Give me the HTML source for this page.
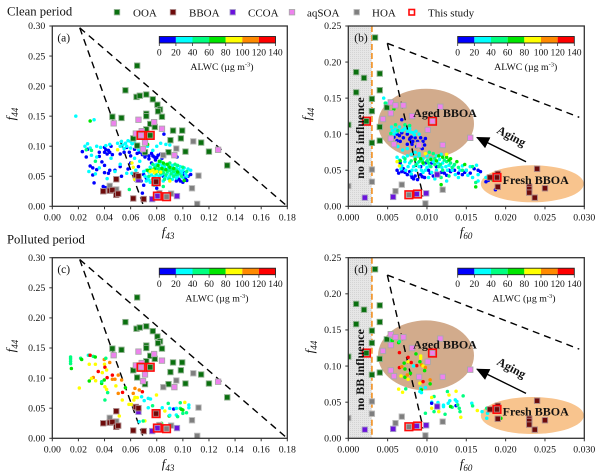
<!DOCTYPE html>
<html lang="en">
<head>
<meta charset="utf-8">
<title>Clean and polluted period f44 vs f43 and f60 scatter panels</title>
<style>
html,body{margin:0;padding:0;background:#fff;width:600px;height:476px;overflow:hidden}
svg{display:block;font-family:"Liberation Serif",serif;filter:blur(0.3px)}
text{fill:#111}
</style>
</head>
<body>
<svg id="chart" xmlns="http://www.w3.org/2000/svg" width="600" height="476" viewBox="0 0 600 476">
<defs>
<pattern id="stipple" width="2" height="2" patternUnits="userSpaceOnUse"><rect width="2" height="2" fill="#e6e6e6"/><rect width="1" height="1" fill="#d4d4d4"/></pattern>
<marker id="arrowhead" markerUnits="userSpaceOnUse" markerWidth="14" markerHeight="12" refX="12" refY="6" orient="auto"><path d="M0 0L13 6L0 12Z" fill="#000"/></marker>
</defs>
</svg>
<script>
// ---------- tick labels ----------
const f43Ticks = [0, 0.02, 0.04, 0.06, 0.08, 0.10, 0.12, 0.14, 0.16, 0.18];
const f60Ticks = [0, 0.005, 0.010, 0.015, 0.020, 0.025, 0.030];
const f44TicksLeft = [0, 0.05, 0.10, 0.15, 0.20, 0.25, 0.30];
const f44TicksRight = [0, 0.05, 0.10, 0.15, 0.20, 0.25];
const alwcTicks = [0, 20, 40, 60, 80, 100, 120, 140];
const alwcColors = ['#0000ff', '#00ffff', '#00ff80', '#00e600', '#ffff00', '#ff8a00', '#ff0000'];

// ---------- literature points [f43, f44] ----------
const ooaF43 = [[.065,.234],[.056,.193],[.072,.186],[.0645,.182],[.067,.184],[.077,.178],[.0805,.169],[.0825,.161],[.081,.158],[.084,.149],[.072,.154],[.072,.150],[.046,.149],[.053,.147],[.075,.137],[.0785,.132],[.072,.128],[.0925,.126],[.0995,.126],[.075,.118],[.0905,.110],[.0985,.113],[.062,.113],[.114,.106],[.065,.101],[.071,.090],[.089,.090],[.102,.091],[.120,.091],[.134,.068]];
const bboaF43 = [[.064,.052],[.066,.050],[.049,.045],[.0795,.041],[.039,.025],[.044,.026],[.046,.027],[.049,.019],[.0505,.021],[.062,.013],[.070,.012]];
const ccoaF43 = [[.066,.044],[.0805,.017],[.0955,.017],[.0765,.012]];
const aqsoaF43 = [[.066,.144],[.047,.138],[.078,.140],[.084,.129],[.0685,.125],[.064,.121],[.071,.106],[.0695,.095],[.0935,.085],[.127,.094],[.068,.118]];
const hoaF43 = [[.108,.108],[.095,.096],[.085,.085],[.112,.051],[.107,.030],[.044,.034],[.049,.028],[.082,.022],[.091,.021],[.0875,.016],[.111,.004]];
const studyF43 = [[.068,.118],[.075,.118],[.0795,.041],[.0805,.017],[.0875,.016]];

// ---------- literature points [f60, f44] ----------
const ooaF60 = [[.0034,.234],[.001,.186],[.002,.178],[.004,.184],[.001,.158],[.004,.161],[.003,.149],[.003,.132],[.0049,.137],[.0023,.118],[.004,.110],[0,.113],[.003,.088],[.004,.091]];
const bboaF60 = [[.024,.052],[.019,.045],[.018,.040],[.0189,.040],[.019,.027],[.023,.027],[.023,.024],[.023,.019],[.025,.025],[.0237,.012]];
const ccoaF60 = [[.0113,.044],[.0021,.012],[.0057,.013],[.0087,.017],[.0099,.018]];
const aqsoaF60 = [[.0054,.144],[.006,.140],[.007,.140],[.0117,.138],[.0054,.129],[.0081,.125],[.0044,.121],[.0101,.106],[.0054,.094],[.0058,.086],[.0090,.085],[.0120,.085],[.0155,.095],[.0107,.118]];
const hoaF60 = [[.003,.051],[.003,.034],[0,.028],[.0068,.030],[.006,.021],[.012,.023],[.0077,.016],[.0098,.004]];
const studyF60 = [[.0023,.118],[.0107,.118],[.0189,.040],[.0088,.017],[.0077,.016]];

// ---------- this-study points [x, f44, ALWC] ----------
const dotsA = [
[.023,.091,10],[.026,.082,10],[.027,.095,10],[.029,.067,10],[.031,.052,10],[.032,.039,10],[.031,.064,10],[.034,.061,10],[.036,.083,10],[.036,.09,10],[.038,.074,10],[.04,.09,10],[.04,.098,10],[.041,.094,10],[.042,.087,10],[.043,.093,10],[.044,.09,10],[.045,.1,10],[.046,.086,10],[.04,.056,10],[.04,.068,10],[.043,.055,10],[.039,.033,10],[.041,.031,10],[.044,.06,10],[.052,.066,10],[.053,.05,10],[.048,.06,10],[.052,.087,10],[.055,.09,10],[.057,.098,10],[.059,.09,10],[.06,.084,10],[.063,.095,10],[.065,.088,10],[.069,.086,10],[.072,.086,10],[.074,.084,10],[.076,.088,10],[.078,.082,10],[.081,.085,10],[.083,.087,10],[.0855,.12,10],[.084,.08,10],[.079,.077,10],[.076,.072,10],[.0955,.082,10],[.07,.053,10],[.072,.047,10],[.068,.042,10],[.07,.035,10],[.069,.022,10],[.08,.03,10],[.1,.04,10],[.102,.047,10],[.104,.05,10],[.1,.052,10],[.097,.045,10],[.092,.06,10],[.095,.042,10],[.085,.05,10],[.066,.066,10],[.06,.072,10],[.058,.062,10],[.098,.042,10],[.103,.043,10],[.106,.053,10],[.101,.056,10],[.071,.082,10],[.067,.09,10],[.074,.079,10],[.077,.084,10],[.08,.081,10],[.086,.083,10],
[.018,.15,30],[.032,.144,30],[.025,.1,30],[.027,.104,30],[.029,.097,30],[.034,.1,30],[.037,.098,30],[.041,.101,30],[.044,.103,30],[.03,.085,30],[.034,.082,30],[.036,.064,30],[.028,.058,30],[.033,.054,30],[.042,.046,30],[.045,.08,30],[.048,.058,30],[.052,.07,30],[.057,.055,30],[.05,.105,30],[.053,.108,30],[.056,.105,30],[.058,.109,30],[.061,.104,30],[.064,.101,30],[.052,.1,30],[.055,.096,30],[.06,.097,30],[.067,.098,30],[.07,.094,30],[.073,.1,30],[.077,.093,30],[.083,.105,30],[.087,.103,30],[.09,.102,30],[.08,.1,30],[.063,.08,30],[.067,.075,30],[.061,.055,30],[.064,.06,30],[.054,.102,30],[.057,.1,30],[.06,.108,30],[.063,.105,30],[.066,.094,30],
[.072,.06,30],[.074,.057,30],[.076,.052,30],[.078,.049,30],[.08,.045,30],[.082,.05,30],[.084,.053,30],[.086,.047,30],[.088,.055,30],[.09,.05,30],[.092,.045,30],[.094,.055,30],[.096,.05,30],[.098,.058,30],[.1,.06,30],[.102,.055,30],[.104,.062,30],[.106,.06,30],[.075,.04,30],[.078,.035,30],[.072,.042,30],[.085,.042,30],[.083,.06,30],[.086,.065,30],[.089,.063,30],[.092,.068,30],[.095,.064,30],[.098,.066,30],[.08,.07,30],[.082,.072,30],[.084,.068,30],[.1,.048,30],[.073,.048,30],[.076,.062,30],[.07,.058,30],[.074,.044,30],[.077,.041,30],[.08,.052,30],[.082,.045,30],[.087,.05,30],[.089,.046,30],[.091,.057,30],[.093,.053,30],[.095,.047,30],[.097,.061,30],[.099,.055,30],[.101,.064,30],[.103,.05,30],[.079,.042,30],[.081,.038,30],[.071,.05,30],[.075,.065,30],[.078,.068,30],
[.081,.058,50],[.085,.06,50],[.088,.058,50],[.09,.06,50],[.093,.058,50],[.095,.06,50],[.097,.054,50],[.099,.05,50],[.091,.054,50],[.087,.052,50],[.083,.055,50],[.079,.055,50],[.077,.045,50],[.074,.05,50],[.086,.07,50],[.09,.072,50],[.094,.07,50],[.083,.075,50],[.077,.07,50],[.079,.065,50],[.1,.065,50],[.103,.058,50],[.09,.045,50],[.093,.05,50],[.085,.033,50],[.059,.028,50],[.033,.075,50],[.026,.094,50],[.03,.093,50],[.082,.063,50],[.085,.056,50],[.089,.067,50],[.092,.062,50],[.096,.068,50],[.086,.045,50],[.095,.053,50],[.08,.062,50],
[.029,.142,70],[.075,.06,70],[.073,.06,70],[.078,.062,70],[.081,.068,70],[.084,.063,70],[.088,.07,70],[.09,.065,70],[.093,.063,70],[.096,.057,70],[.101,.043,70],[.082,.075,70],[.073,.103,70],[.087,.061,70],[.085,.072,70],
[.061,.072,90],[.05,.094,90],[.077,.06,90],[.08,.058,90],[.078,.056,90],[.075,.058,90],[.083,.057,90],[.062,.065,90],[.063,.045,90],[.09,.042,90]
];
const dotsB = [
[.0062,.1,10],[.0058,.096,10],[.0065,.098,10],[.0068,.102,10],[.0062,.091,10],[.0066,.09,10],[.007,.095,10],[.0075,.1,10],[.0078,.093,10],[.008,.096,10],[.0082,.09,10],[.0085,.095,10],[.0088,.09,10],[.009,.087,10],[.0092,.095,10],[.0095,.09,10],[.0097,.085,10],[.0098,.094,10],[.0094,.08,10],[.0091,.083,10],[.0087,.083,10],[.0081,.086,10],[.0075,.086,10],[.0068,.12,10],
[.0062,.05,10],[.0064,.046,10],[.0066,.06,10],[.0068,.048,10],[.007,.052,10],[.0075,.044,10],[.0078,.048,10],[.0081,.04,10],[.0085,.042,10],[.0088,.037,10],[.0092,.044,10],[.0097,.04,10],[.0102,.05,10],[.0108,.042,10],[.0112,.055,10],[.0118,.047,10],[.0125,.043,10],[.013,.048,10],[.0135,.05,10],[.014,.046,10],[.0145,.044,10],[.015,.05,10],[.0155,.046,10],[.016,.052,10],[.0165,.05,10],[.0168,.048,10],[.0092,.055,10],[.0098,.06,10],[.0106,.06,10],[.0175,.034,10],[.0187,.023,10],[.0178,.036,10],[.0072,.047,10],[.008,.043,10],[.0083,.038,10],[.0094,.041,10],[.0104,.046,10],[.0115,.043,10],[.0122,.046,10],[.0128,.05,10],[.0148,.047,10],
[.0045,.15,30],[.0048,.143,30],[.005,.138,30],[.0055,.11,30],[.0056,.105,30],[.006,.107,30],[.0065,.11,30],[.0068,.105,30],[.0072,.108,30],[.0075,.104,30],[.0078,.108,30],[.0082,.102,30],[.0086,.104,30],[.009,.1,30],[.0063,.083,30],[.0069,.078,30],[.0075,.08,30],[.0085,.075,30],[.009,.073,30],[.0058,.1,30],[.0061,.103,30],[.007,.106,30],[.0079,.103,30],[.0084,.099,30],
[.0062,.068,30],[.0065,.064,30],[.007,.068,30],[.0075,.07,30],[.008,.072,30],[.0085,.068,30],[.009,.07,30],[.0095,.066,30],[.01,.07,30],[.0072,.062,30],[.0078,.06,30],[.0083,.055,30],[.0088,.06,30],[.0093,.05,30],[.0098,.05,30],[.0103,.056,30],[.0108,.062,30],[.0112,.05,30],[.0116,.065,30],[.012,.06,30],[.0124,.055,30],[.0128,.057,30],[.0132,.05,30],[.0136,.044,30],[.014,.04,30],[.0145,.056,30],[.015,.05,30],[.0155,.055,30],[.0158,.04,30],[.0163,.057,30],[.0165,.044,30],[.0068,.056,30],[.0073,.05,30],[.008,.045,30],[.0086,.05,30],[.0102,.04,30],[.011,.038,30],[.0125,.035,30],[.0112,.07,30],[.0118,.072,30],[.0105,.067,30],[.0188,.042,30],[.0175,.04,30],[.0165,.035,30],[.0067,.052,30],[.0076,.055,30],[.0081,.05,30],[.009,.055,30],[.0095,.047,30],[.01,.054,30],[.0106,.047,30],[.0114,.06,30],[.0119,.054,30],[.0126,.05,30],[.0134,.056,30],[.0142,.05,30],[.0152,.043,30],[.0096,.058,30],[.0101,.064,30],
[.0054,.101,50],[.006,.113,50],[.0072,.113,50],[.0078,.112,50],[.0063,.105,50],[.0047,.143,50],[.0072,.066,50],[.008,.063,50],[.009,.062,50],[.01,.063,50],[.0105,.055,50],[.011,.058,50],[.0115,.055,50],[.012,.05,50],[.0125,.062,50],[.013,.06,50],[.0135,.058,50],[.014,.054,50],[.0145,.05,50],[.0128,.042,50],[.0118,.04,50],[.0108,.073,50],[.0103,.075,50],[.0158,.055,50],[.0162,.033,50],[.0086,.058,50],[.0094,.063,50],[.011,.066,50],[.0122,.064,50],[.0132,.054,50],[.0117,.058,50],[.0102,.06,50],
[.0085,.065,70],[.0095,.06,70],[.0105,.065,70],[.0115,.07,70],[.012,.068,70],[.0125,.068,70],[.013,.066,70],[.0138,.062,70],[.0148,.058,70],[.0118,.03,70],[.0162,.027,70],[.0058,.135,70],[.0053,.13,70],[.0066,.063,70],[.0183,.037,70],[.0092,.066,70],[.0112,.063,70],[.0128,.064,70],
[.0062,.062,90],[.0065,.056,90],[.0125,.072,90],[.0098,.073,90]
];
const dotsC = [
[.014,.135,50],[.014,.132,50],[.014,.128,40],[.014,.124,40],[.0146,.116,70],[.0217,.133,50],[.0225,.131,70],[.0276,.138,30],[.0283,.138,50],[.029,.138,130],[.0314,.136,50],[.0329,.135,70],
[.0283,.123,90],[.033,.123,90],[.040,.123,90],[.0398,.131,110],[.041,.133,50],[.044,.126,110],[.0403,.118,130],[.0416,.1134,90],[.0352,.111,130],[.0383,.109,90],[.042,.1007,130],[.0398,.0968,70],[.046,.105,130],[.046,.098,110],[.0505,.105,110],[.048,.098,110],[.0531,.0968,110],
[.0314,.101,110],[.030,.0996,90],[.0283,.0952,70],[.0332,.0957,90],[.0378,.0913,70],[.0378,.094,50],[.0403,.0857,90],[.0416,.0813,90],[.0424,.0758,50],[.0207,.0835,90],[.0487,.087,90],[.0403,.0636,50],
[.0505,.0747,110],[.0538,.0763,130],[.056,.084,70],[.0633,.083,110],[.0666,.0802,110],[.069,.0774,130],[.062,.0747,110],[.0798,.0719,90],[.0633,.068,90],[.0651,.0675,90],[.0684,.069,30],[.0735,.0664,30],[.0752,.0652,30],[.0704,.0625,30],[.0536,.0636,90],[.0625,.0636,90],
[.0587,.0564,90],[.0607,.0564,90],[.0768,.0541,50],[.0735,.0508,30],[.0842,.0508,30],[.0862,.0453,90],[.0888,.058,50],[.09,.0497,30],[.093,.0486,10],[.095,.0497,30],[.098,.0591,50],[.1015,.0597,90],[.1046,.0553,30],[.1046,.0508,30],[.098,.0497,50],[.099,.048,70],[.1,.047,70],[.1028,.0425,50],[.1,.0414,50],[.095,.0387,30],[.096,.036,50],[.0895,.037,70],[.09,.038,30],[.0666,.0276,30],[.0709,.029,90],[.0696,.0287,50],[.0837,.0248,70],[.0513,.0370,90]
];
const dotsD = [
[.0053,.136,50],[.0056,.135,70],[.0064,.1325,70],[.0065,.134,50],[.0065,.1186,130],[.0086,.1168,70],[.0092,.114,90],[.0076,.112,130],[.0092,.1108,90],[.0076,.106,90],[.0080,.105,130],[.0071,.104,70],[.0087,.1006,130],[.0093,.1016,110],[.0095,.1,90],[.0098,.098,110],[.0065,.0979,130],[.0068,.099,110],[.0072,.096,70],[.0091,.106,70],[.0083,.1,30],[.0097,.0937,70],[.0079,.09,70],[.0067,.0863,90],[.0072,.0845,70],[.0075,.0877,110],[.0076,.0817,90],[.0090,.083,90],[.0095,.0785,130],[.0091,.0762,90],[.0104,.0808,110],[.0104,.0753,70],[.0092,.0693,30],[.0093,.067,70],[.0091,.0647,30],[.0093,.0633,30],[.0098,.0702,30],[.0064,.068,90],[.0069,.0638,90],[.0073,.0684,50],
[.0126,.0647,50],[.0137,.0651,90],[.0146,.0587,50],[.0109,.0578,50],[.0106,.0564,90],[.0128,.06,90],[.0106,.05,30],[.0106,.0485,10],[.0114,.0495,30],[.0121,.046,30],[.0127,.0485,30],[.0129,.052,30],[.0136,.0532,30],[.0138,.0509,30],[.0137,.0453,10],[.0132,.043,50],[.0139,.0462,50],[.0121,.0439,30],[.0141,.0416,50],[.0142,.037,50],[.0106,.0416,90],[.0109,.037,50],[.0115,.037,90],[.0123,.0333,50],[.0098,.0347,50],[.0130,.044,70],[.0143,.0292,90],[.0157,.0485,30],[.0158,.0449,50],[.0164,.0384,90],[.0170,.037,30],[.0176,.0416,50],[.0177,.0347,30],[.0176,.0278,30],[.0194,.0278,70],[.0192,.029,30]
];

// ---------- drawing ----------
const NS = 'http://www.w3.org/2000/svg';
const svg = document.getElementById('chart');
function mk(tag, attrs, parent) {
  const el = document.createElementNS(NS, tag);
  for (const k in attrs) el.setAttribute(k, attrs[k]);
  (parent || svg).appendChild(el);
  return el;
}
function colorOf(v) {
  return alwcColors[Math.min(alwcColors.length - 1, Math.max(0, Math.floor(v / 20)))];
}
function fmt(v, d) { return v.toFixed(d); }

function axisTitle(g, cx, cy, rot, main, sub, name) {
  const t = mk('text', {x: cx, y: cy, 'text-anchor': 'middle', 'font-size': 13, 'font-style': 'italic', transform: rot ? 'rotate(-90 ' + cx + ' ' + cy + ')' : ''}, g);
  
  
  t.appendChild(document.createTextNode(main));
  const s = mk('tspan', {'font-size': 9, dy: 3}, t);
  s.textContent = sub;
}

function squares(g, pts, sx, sy, fill, halo, name) {
  pts.forEach(function (p) {
    const r = mk('rect', {x: sx(p[0]) - 2.7, y: sy(p[1]) - 2.7, width: 5.4, height: 5.4, fill: fill, stroke: halo, 'stroke-width': 0.9}, g);
    
    
  });
}

function drawPanel(cfg) {
  const g = mk('g', {});
  
  

  const sx = function (v) { return cfg.x0 + v / cfg.xMax * (cfg.x1 - cfg.x0); };
  const sy = function (v) { return cfg.y0 - v / cfg.yMax * (cfg.y0 - cfg.y1); };
  const clipId = 'clip-' + cfg.label;
  const cp = mk('clipPath', {id: clipId}, g);
  mk('rect', {x: cfg.x0, y: cfg.y1, width: cfg.x1 - cfg.x0, height: cfg.y0 - cfg.y1}, cp);

  const plot = mk('g', {'clip-path': 'url(#' + clipId + ')'}, g);
  
  

  if (cfg.isF60) {
    const band = mk('rect', {x: sx(0), y: cfg.y1, width: sx(0.003) - sx(0), height: cfg.y0 - cfg.y1, fill: 'url(#stipple)'}, plot);
    
    
    const aged = mk('ellipse', {cx: 426, cy: cfg.y1 + 97.7, rx: 48, ry: 35, fill: '#d2ab8c'}, plot);
    
    
    const fresh = mk('ellipse', {cx: 532.3, cy: cfg.y1 + 157.8, rx: 51.5, ry: 18.5, fill: '#f8c48e'}, plot);
    
    
    const bl = mk('line', {x1: sx(0.003), x2: sx(0.003), y1: cfg.y1, y2: cfg.y0, stroke: '#f29a35', 'stroke-width': 1.8, 'stroke-dasharray': '6 3'}, plot);
    
    
  }

  const apex = cfg.tri[0];
  cfg.tri.slice(1).forEach(function (e) {
    const l = mk('line', {x1: sx(apex[0]), y1: sy(apex[1]), x2: sx(e[0]), y2: sy(e[1]), stroke: '#000', 'stroke-width': 1.4, 'stroke-dasharray': '7 5'}, plot);
    
    
  });

  cfg.dots.forEach(function (d) {
    const c = mk('circle', {cx: sx(d[0]), cy: sy(d[1]), r: 1.75, fill: colorOf(d[2])}, plot);
    
    
  });

  squares(plot, cfg.ooa, sx, sy, '#0a700f', '#8fb08f', 'ooa-point');
  squares(plot, cfg.hoa, sx, sy, '#7f7f7f', '#bbbbbb', 'hoa-point');
  squares(plot, cfg.aqsoa, sx, sy, '#ee82ee', '#a9a9a9', 'aqsoa-point');
  squares(plot, cfg.ccoa, sx, sy, '#6a12dc', '#a9a0c8', 'ccoa-point');
  squares(plot, cfg.bboa, sx, sy, '#6e0b0b', '#a88', 'bboa-point');
  cfg.study.forEach(function (p) {
    const r = mk('rect', {x: sx(p[0]) - 3.8, y: sy(p[1]) - 3.8, width: 7.6, height: 7.6, fill: 'none', stroke: '#ff0a0a', 'stroke-width': 1.6}, plot);
    
    
  });

  const frame = mk('rect', {x: cfg.x0, y: cfg.y1, width: cfg.x1 - cfg.x0, height: cfg.y0 - cfg.y1, fill: 'none', stroke: '#333', 'stroke-width': 1.3}, g);
  
  

  cfg.xTicks.forEach(function (v) {
    const tk = mk('line', {x1: sx(v), x2: sx(v), y1: cfg.y0, y2: cfg.y0 + 3, stroke: '#333', 'stroke-width': 1}, g);
    
    
    const t = mk('text', {x: sx(v), y: cfg.y0 + 14, 'text-anchor': 'middle', 'font-size': 9.8}, g);
    
    
    t.textContent = fmt(v, cfg.xDigits);
  });
  cfg.yTicks.forEach(function (v) {
    const tk = mk('line', {x1: cfg.x0 - 3, x2: cfg.x0, y1: sy(v), y2: sy(v), stroke: '#333', 'stroke-width': 1}, g);
    
    
    const t = mk('text', {x: cfg.x0 - 7, y: sy(v) + 3.2, 'text-anchor': 'end', 'font-size': 9.8}, g);
    
    
    t.textContent = fmt(v, 2);
  });

  axisTitle(g, cfg.yTitleX, cfg.yTitleY, true, 'f', '44', 'y-axis-title');
  axisTitle(g, cfg.xTitleX, cfg.xTitleY, false, 'f', cfg.isF60 ? '60' : '43', 'x-axis-title');

  const pl = mk('text', {x: cfg.labelX, y: cfg.y1 + 15.5, 'text-anchor': 'middle', 'font-size': 11.5}, g);
  
  
  pl.textContent = '(' + cfg.label + ')';

  // colour bar
  const barH = 6.5;
  const barY = cfg.y1 + 10.5;
  const sb = function (v) { return cfg.barX0 + v / 140 * (cfg.barX1 - cfg.barX0); };
  alwcColors.forEach(function (col, i) {
    const r = mk('rect', {x: sb(alwcTicks[i]), y: barY, width: sb(alwcTicks[i + 1]) - sb(alwcTicks[i]), height: barH, fill: col}, g);
    
    
  });
  const bf = mk('rect', {x: cfg.barX0, y: barY, width: cfg.barX1 - cfg.barX0, height: barH, fill: 'none', stroke: '#222', 'stroke-width': 0.9}, g);
  
  
  alwcTicks.forEach(function (v) {
    const tk = mk('line', {x1: sb(v), x2: sb(v), y1: barY + barH, y2: barY + barH + 3, stroke: '#333', 'stroke-width': 0.8}, g);
    
    
    const t = mk('text', {x: sb(v), y: barY + barH + 12.5, 'text-anchor': 'middle', 'font-size': 9.6}, g);
    
    
    t.textContent = v;
  });
  const bt = mk('text', {x: cfg.barTitleX, y: cfg.y1 + 44, 'text-anchor': 'middle', 'font-size': 9.8}, g);
  
  
  bt.appendChild(document.createTextNode('ALWC (\u00b5g m'));
  const sup = mk('tspan', {'font-size': 6.5, dy: -3.5}, bt);
  sup.textContent = '-3';
  const close = mk('tspan', {dy: 3.5}, bt);
  close.textContent = ')';

  if (cfg.isF60) {
    const y1 = cfg.y1;
    const nb = mk('text', {x: 364, y: y1 + 112, 'text-anchor': 'middle', 'font-size': 12, 'font-weight': 'bold', transform: 'rotate(-90 364 ' + (y1 + 112) + ')'}, g);
    
    
    nb.textContent = 'no BB influence';
    const ag = mk('text', {x: 445, y: y1 + 91, 'text-anchor': 'middle', 'font-size': 12, 'font-weight': 'bold'}, g);
    
    
    ag.textContent = 'Aged BBOA';
    const fr = mk('text', {x: 535.7, y: y1 + 158, 'text-anchor': 'middle', 'font-size': 12, 'font-weight': 'bold'}, g);
    
    
    fr.textContent = 'Fresh BBOA';
    const ar = mk('line', {x1: 526, y1: y1 + 135.7, x2: 477, y2: y1 + 111.5, stroke: '#000', 'stroke-width': 1.4, 'marker-end': 'url(#arrowhead)'}, g);
    
    
    const at = mk('text', {x: 511, y: y1 + 114, 'text-anchor': 'middle', 'font-size': 12, 'font-weight': 'bold', transform: 'rotate(28 511 ' + (y1 + 111) + ')'}, g);
    
    
    at.textContent = 'Aging';
  }
}

const triF43 = [[.021, .297], [.18, 0], [.07, 0]];
const triF60 = [[.00496, .226], [.02936, .1234], [.00953, .0134]];

drawPanel({label: 'a', isF60: false, x0: 52.3, x1: 287.3, y0: 206.3, y1: 26, xMax: .18, yMax: .30, xTicks: f43Ticks, xDigits: 2, yTicks: f44TicksLeft, tri: triF43, dots: dotsA, ooa: ooaF43, bboa: bboaF43, ccoa: ccoaF43, aqsoa: aqsoaF43, hoa: hoaF43, study: studyF43, labelX: 63.7, barX0: 159.3, barX1: 275.5, barTitleX: 222, yTitleX: 15, yTitleY: 114, xTitleX: 168, xTitleY: 236});
drawPanel({label: 'b', isF60: true, x0: 348.3, x1: 584.3, y0: 206.3, y1: 26, xMax: .03, yMax: .25, xTicks: f60Ticks, xDigits: 3, yTicks: f44TicksRight, tri: triF60, dots: dotsB, ooa: ooaF60, bboa: bboaF60, ccoa: ccoaF60, aqsoa: aqsoaF60, hoa: hoaF60, study: studyF60, labelX: 361, barX0: 457.7, barX1: 574.3, barTitleX: 525.7, yTitleX: 311, yTitleY: 114, xTitleX: 466, xTitleY: 236});
drawPanel({label: 'c', isF60: false, x0: 52.3, x1: 287.3, y0: 438.3, y1: 257.7, xMax: .18, yMax: .30, xTicks: f43Ticks, xDigits: 2, yTicks: f44TicksLeft, tri: triF43, dots: dotsC, ooa: ooaF43, bboa: bboaF43, ccoa: ccoaF43, aqsoa: aqsoaF43, hoa: hoaF43, study: studyF43, labelX: 63.7, barX0: 159.3, barX1: 275.5, barTitleX: 217, yTitleX: 15, yTitleY: 346, xTitleX: 168, xTitleY: 468});
drawPanel({label: 'd', isF60: true, x0: 348.3, x1: 584.3, y0: 438.3, y1: 257.7, xMax: .03, yMax: .25, xTicks: f60Ticks, xDigits: 3, yTicks: f44TicksRight, tri: triF60, dots: dotsD, ooa: ooaF60, bboa: bboaF60, ccoa: ccoaF60, aqsoa: aqsoaF60, hoa: hoaF60, study: studyF60, labelX: 361, barX0: 457.7, barX1: 574.3, barTitleX: 524, yTitleX: 314, yTitleY: 347, xTitleX: 466, xTitleY: 468});

// legend
const clean = mk('text', {x: 7, y: 15.5, 'font-size': 12.7});


clean.textContent = 'Clean period';
const polluted = mk('text', {x: 7, y: 243.5, 'font-size': 12.7});


polluted.textContent = 'Polluted period';

const legendNames = ['OOA', 'BBOA', 'CCOA', 'aqSOA', 'HOA'];
const legendFills = ['#0a700f', '#6e0b0b', '#6a12dc', '#ee82ee', '#7f7f7f'];
const legendHalos = ['#8fb08f', '#a88', '#a9a0c8', '#a9a9a9', '#bbbbbb'];
const legendSwatchX = [117, 173, 232.7, 292, 356.7];
const legendTextX = [133, 189, 248, 307, 372];
legendNames.forEach(function (n, i) {
  const r = mk('rect', {x: legendSwatchX[i] - 2.7, y: 9.5, width: 5.4, height: 5.4, fill: legendFills[i], stroke: legendHalos[i], 'stroke-width': 0.9});
  
  
  const t = mk('text', {x: legendTextX[i], y: 16.5, 'font-size': 11});
  
  
  t.textContent = n;
});
const studySwatch = mk('rect', {x: 409, y: 9.5, width: 5.5, height: 5.5, fill: '#fff', stroke: '#ff0a0a', 'stroke-width': 1.6});


const studyText = mk('text', {x: 428, y: 16.5, 'font-size': 11});


studyText.textContent = 'This study';
</script>
</body>
</html>
